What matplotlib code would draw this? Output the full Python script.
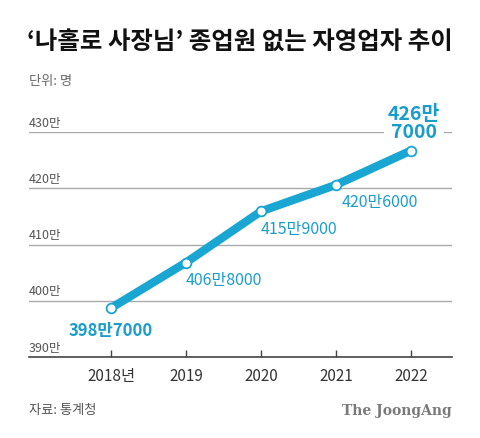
import matplotlib
matplotlib.use("Agg")
import matplotlib.pyplot as plt

plt.rcParams['font.family'] = ['Noto Sans CJK KR', 'DejaVu Sans']

years = [2018, 2019, 2020, 2021, 2022]
year_labels = ['2018년', '2019', '2020', '2021', '2022']
values = [398.7, 406.8, 415.9, 420.6, 426.7]  # 만 명
value_labels = ['398만7000', '406만8000', '415만9000', '420만6000', '426만\n7000']
yticks = [390, 400, 410, 420, 430]
ytick_labels = ['390만', '400만', '410만', '420만', '430만']

title = "‘나홀로 사장님’ 종업원 없는 자영업자 추이"
unit = "단위: 명"
source = "자료: 통계청"
brand = "The JoongAng"

W, H = 480, 439
fig = plt.figure(figsize=(W / 100, H / 100), dpi=100)
fig.patch.set_facecolor('white')

ax = fig.add_axes([29 / W, 1 - 358 / H, (452 - 29) / W, (358 - 133) / H])
ax.set_xlim(2018 - 82 / 75, 2022 + 41 / 75)
ax.set_ylim(390, 430)
for s in ['top', 'right', 'left']:
    ax.spines[s].set_visible(False)
ax.spines['bottom'].set_color('#444444')
ax.spines['bottom'].set_linewidth(1.2)
ax.set_yticks([])
ax.set_xticks(years)
ax.set_xticklabels(year_labels, fontsize=11, color='#333333')
ax.tick_params(axis='x', direction='in', length=5, width=1, color='#444444', pad=7)

for y in yticks[1:]:
    ax.axhline(y, color='#aaaaaa', lw=1, zorder=1)
for y, lab in zip(yticks, ytick_labels):
    ax.annotate(lab, xy=(0, y), xycoords=('axes fraction', 'data'),
                xytext=(0, 2.5), textcoords='offset points',
                fontsize=9, color='#555555', ha='left', va='bottom')

blue = '#1aa6d3'
tblue = '#1a9dca'
ax.plot(years, values, color=blue, lw=6, solid_capstyle='round',
        solid_joinstyle='round', zorder=3,
        marker='o', markersize=7, markerfacecolor='white',
        markeredgecolor=blue, markeredgewidth=1.3, clip_on=False)

offsets = [(0, -9, 'center', 'top'), (0, -6, 'left', 'top'),
           (0, -6, 'left', 'top'), (4, -6, 'left', 'top'),
           (2, 7, 'center', 'bottom')]
for x, v, lab, (dx, dy, ha, va) in zip(years, values, value_labels, offsets):
    if x == 2022:
        ax.annotate(lab, xy=(x, v), xytext=(dx, dy), textcoords='offset points',
                    ha=ha, va=va, fontsize=14, fontweight='bold', color=tblue,
                    linespacing=0.9, multialignment='center',
                    bbox=dict(boxstyle='square,pad=0.2', fc='white', ec='none'),
                    zorder=4, annotation_clip=False)
    elif x == 2018:
        ax.annotate(lab, xy=(x, v), xytext=(dx, dy), textcoords='offset points',
                    ha=ha, va=va, fontsize=12, fontweight='bold', color=tblue,
                    zorder=4, annotation_clip=False)
    else:
        ax.annotate(lab, xy=(x, v), xytext=(dx, dy), textcoords='offset points',
                    ha=ha, va=va, fontsize=11.5, fontweight='medium', color=tblue,
                    zorder=4, annotation_clip=False)

fig.text(27 / W, 1 - 42 / H, title, fontsize=17.6, fontweight='black',
         color='#111111', ha='left', va='center')
fig.text(29 / W, 1 - 81 / H, unit, fontsize=9.5, color='#666666',
         ha='left', va='center')
fig.text(29 / W, 1 - 411 / H, source, fontsize=9.5, color='#555555',
         ha='left', va='center')
fig.text(452 / W, 1 - 411 / H, brand, fontsize=10, fontweight='bold',
         family='DejaVu Serif', color='#7a7a7a', ha='right', va='center')

fig.savefig('out.png', dpi=100, facecolor='white')
